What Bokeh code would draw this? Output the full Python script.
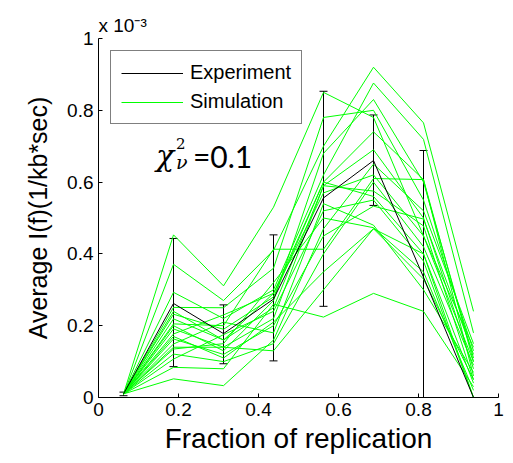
from bokeh.plotting import figure
from bokeh.models import (ColumnDataSource, Whisker, TeeHead, Legend, LegendItem,
                          Label, FixedTicker, CustomJSTickFormatter, Range1d)
from bokeh.embed import file_html
from bokeh.resources import INLINE

# ---- data (y in units of 1e-3) ----
frac = [0.0625, 0.1875, 0.3125, 0.4375, 0.5625, 0.6875, 0.8125, 0.9375]
exp_mean = [0.010, 0.262, 0.178, 0.274, 0.556, 0.660, 0.335, 0.000]
exp_upper = [0.015, 0.443, 0.258, 0.453, 0.853, 0.787, 0.688, 0.000]
exp_lower = [0.005, 0.086, 0.094, 0.102, 0.254, 0.535, 0.000, 0.000]

sim_01 = [0.010, 0.453, 0.311, 0.530, 0.850, 0.780, 0.450, 0.100]
sim_02 = [0.008, 0.371, 0.270, 0.410, 0.700, 0.920, 0.765, 0.240]
sim_03 = [0.010, 0.293, 0.220, 0.300, 0.620, 0.876, 0.719, 0.180]
sim_04 = [0.010, 0.251, 0.250, 0.360, 0.780, 0.800, 0.550, 0.130]
sim_05 = [0.012, 0.232, 0.190, 0.280, 0.600, 0.740, 0.607, 0.100]
sim_06 = [0.010, 0.219, 0.160, 0.250, 0.590, 0.690, 0.500, 0.080]
sim_07 = [0.010, 0.205, 0.200, 0.413, 0.413, 0.610, 0.607, 0.060]
sim_08 = [0.010, 0.191, 0.140, 0.220, 0.590, 0.575, 0.478, 0.050]
sim_09 = [0.010, 0.177, 0.230, 0.290, 0.600, 0.560, 0.400, 0.040]
sim_10 = [0.010, 0.163, 0.120, 0.200, 0.450, 0.533, 0.497, 0.120]
sim_11 = [0.010, 0.149, 0.210, 0.180, 0.540, 0.480, 0.300, 0.070]
sim_12 = [0.010, 0.135, 0.150, 0.320, 0.500, 0.473, 0.350, 0.020]
sim_13 = [0.010, 0.121, 0.100, 0.150, 0.400, 0.600, 0.420, 0.090]
sim_14 = [0.010, 0.107, 0.175, 0.240, 0.520, 0.550, 0.380, 0.000]
sim_15 = [0.010, 0.084, 0.080, 0.260, 0.224, 0.290, 0.240, 0.030]
sim_16 = [0.010, 0.052, 0.033, 0.160, 0.470, 0.650, 0.520, 0.150]
sim_17 = [0.010, 0.200, 0.130, 0.270, 0.680, 0.830, 0.600, 0.110]
sim_18 = [0.010, 0.170, 0.110, 0.210, 0.350, 0.470, 0.330, 0.050]
sim_19 = [0.010, 0.140, 0.140, 0.130, 0.300, 0.470, 0.400, 0.000]
sim_20 = [0.010, 0.240, 0.160, 0.290, 0.570, 0.620, 0.450, 0.140]

sims = [sim_01, sim_02, sim_03, sim_04, sim_05, sim_06, sim_07, sim_08, sim_09, sim_10,
        sim_11, sim_12, sim_13, sim_14, sim_15, sim_16, sim_17, sim_18, sim_19, sim_20]

ticks = [0, 0.2, 0.4, 0.6, 0.8, 1]
exponent_text = "x 10⁻³"

FONT = "Liberation Sans"

p = figure(width=513, height=463, output_backend="svg", toolbar_location=None,
           x_range=Range1d(0, 1), y_range=Range1d(0, 1),
           min_border_left=98, min_border_right=15, min_border_top=38, min_border_bottom=66)
p.outline_line_color = None
p.xgrid.visible = False
p.ygrid.visible = False
p.background_fill_color = "white"
p.border_fill_color = "white"

# exponent as title above the frame
p.title.text = exponent_text
p.title.align = "left"
p.title.text_font = FONT
p.title.text_font_style = "normal"
p.title.text_font_size = "19px"
p.title.text_color = "black"
p.title.standoff = 5
p.title.offset = 0

fmt = CustomJSTickFormatter(code="return String(Math.round(tick*10)/10)")
for ax in (p.xaxis[0], p.yaxis[0]):
    ax.ticker = FixedTicker(ticks=ticks)
    ax.formatter = fmt
    ax.major_tick_in = 4
    ax.major_tick_out = 0
    ax.minor_tick_line_color = None
    ax.axis_line_color = "black"
    ax.major_tick_line_color = "black"
    ax.major_label_text_font = FONT
    ax.major_label_text_font_size = "19px"
    ax.major_label_text_color = "black"
    ax.axis_label_text_font = FONT
    ax.axis_label_text_font_style = "normal"
    ax.axis_label_text_color = "black"
    ax.major_label_standoff = 5

p.xaxis.axis_label = "Fraction of replication"
p.xaxis.axis_label_text_font_size = "28px"
p.xaxis.axis_label_standoff = 4
p.yaxis.axis_label = "Average I(f)(1/kb*sec)"
p.yaxis.axis_label_text_font_size = "25px"
p.yaxis.axis_label_standoff = 12

sim_r = p.multi_line(xs=[frac] * len(sims), ys=sims, line_color="#00ff00", line_width=1)

src = ColumnDataSource(dict(x=frac, y=exp_mean, up=exp_upper, lo=exp_lower))
exp_r = p.line("x", "y", source=src, line_color="black", line_width=1)
wh = Whisker(base="x", upper="up", lower="lo", source=src, line_color="black", line_width=1,
             upper_head=TeeHead(size=8, line_color="black", line_width=1),
             lower_head=TeeHead(size=8, line_color="black", line_width=1))
p.add_layout(wh)

legend = Legend(items=[LegendItem(label="Experiment", renderers=[exp_r]),
                       LegendItem(label="Simulation", renderers=[sim_r])],
                location="top_left", margin=12, padding=10, spacing=6,
                glyph_width=62, glyph_height=20, label_height=20, label_standoff=7,
                label_text_font=FONT, label_text_font_size="20px", label_text_color="black",
                border_line_color="black", border_line_width=1,
                background_fill_alpha=1.0)
p.add_layout(legend)

# chi-square annotation
p.add_layout(Label(x=0.1435, y=0.674, text="χ", text_font="DejaVu Serif", text_font_style="italic",
                   text_font_size="30px", text_baseline="alphabetic", text_color="black"))
p.add_layout(Label(x=0.1935, y=0.707, text="2", text_font="DejaVu Serif",
                   text_font_size="15px", text_baseline="alphabetic", text_color="black"))
p.add_layout(Label(x=0.1935, y=0.655, text="ν", text_font="DejaVu Serif", text_font_style="italic",
                   text_font_size="19px", text_baseline="alphabetic", text_color="black"))
p.add_layout(Label(x=0.236, y=0.674, text="=0.1", text_font="Lato",
                   text_font_size="30px", text_baseline="alphabetic", text_color="black"))

open("out.html", "w").write(file_html(p, INLINE))
